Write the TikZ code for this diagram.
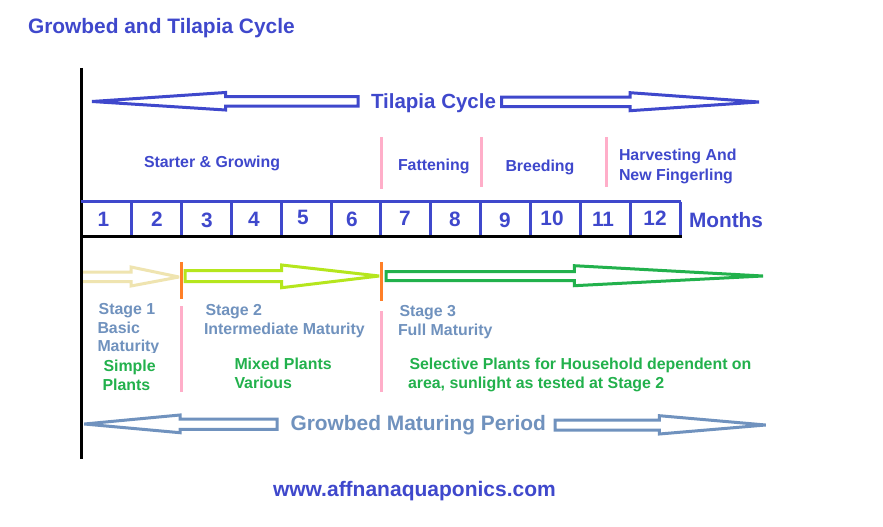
\documentclass[tikz,border=0pt]{standalone}
\usepackage{fontspec}
\setmainfont{Liberation Sans}
\definecolor{indigoP}{HTML}{3F48CC}
\definecolor{steelP}{HTML}{7092BE}
\definecolor{greenP}{HTML}{22B14C}
\definecolor{limeP}{HTML}{B5E61D}
\definecolor{creamP}{HTML}{EFE4B0}
\definecolor{pinkP}{HTML}{FFAEC9}
\definecolor{orangeP}{HTML}{FF7F27}
\newcommand{\fsz}[1]{\fontsize{#1}{#1}\selectfont\bfseries}
\tikzset{
  lbl/.style={inner sep=0pt,outer sep=0pt,anchor=base west,font=\fsz{15.9}},
  num/.style={inner sep=0pt,outer sep=0pt,anchor=base,text=indigoP,font=\fsz{20.8}},
  blt/.style={lbl,text=indigoP},
  slt/.style={lbl,text=steelP},
  grt/.style={lbl,text=greenP},
  arrowline/.style={line width=3pt,line join=miter,miter limit=4},
  sep/.style={line width=3pt},
}
\begin{document}
\begin{tikzpicture}[x=1pt,y=-1pt]
\useasboundingbox[fill=white] (0,0) rectangle (883,527);
% title
\node[blt,font=\fsz{20.9}] (title) at (28,34) {Growbed and Tilapia Cycle};
% axis
\draw[line width=3pt,black] (81,68) -- (81,459);
% top arrows
\draw[arrowline,indigoP] (358,96.5) -- (225.5,96.5) -- (225.5,92.5) -- (92,101.5) -- (225.5,110) -- (225.5,106) -- (358,106) -- cycle;
\draw[arrowline,indigoP] (501.7,97) -- (630,97) -- (630,92.7) -- (759,102) -- (630,110.7) -- (630,106.7) -- (501.7,106.7) -- cycle;
\node[blt,font=\fsz{20.5}] (tilapia) at (371,108) {Tilapia Cycle};
% phase separators
\draw[sep,pinkP] (381.5,137) -- (381.5,189);
\draw[sep,pinkP] (481,137) -- (481,187);
\draw[sep,pinkP] (606,137) -- (606,187);
\node[blt] (starter) at (144,167.7) {Starter \& Growing};
\node[blt] (fatten) at (398,170) {Fattening};
\node[blt] (breed) at (505.5,171) {Breeding};
\node[blt] (harv) at (619,160) {Harvesting And};
\node[blt] (newf) at (619,180) {New Fingerling};
% month strip
\draw[line width=3pt,indigoP] (81,201.5) -- (681,201.5);
\foreach \x in {131.7,181.7,231.7,281.7,331.7,380.7,430.7,480.7,530.7,580.7,630.7,680.7}
  \draw[line width=3pt,indigoP] (\x,201.5) -- (\x,236);
\draw[line width=3pt,black] (81,236.3) -- (682,236.3);
\foreach \n/\x/\y in {1/103.5/226,2/157/226.7,3/207/227.7,4/254/226,5/303/224.3,6/352/226,7/405/225,8/455/226.7,9/505/227.7,10/552/225.7,11/603/226,12/655/225}
  \node[num] (m\n) at (\x,\y) {\n};
\node[blt,font=\fsz{20.8}] (months) at (689,227.6) {Months};
% stage arrows
\draw[arrowline,creamP] (83,272) -- (131,272) -- (131,267) -- (179,277) -- (131,286) -- (131,281.7) -- (83,281.7);
\draw[arrowline,limeP] (185,270.7) -- (281.7,270.7) -- (281.7,265) -- (379.3,276) -- (281.7,287.7) -- (281.7,281.7) -- (185,281.7) -- cycle;
\draw[arrowline,greenP] (386,271.7) -- (574.3,271.7) -- (574.3,265.7) -- (763,276) -- (574.3,285.7) -- (574.3,280.7) -- (386,280.7) -- cycle;
% stage separators
\draw[sep,orangeP] (181,262) -- (181,299);
\draw[sep,orangeP] (381.5,262) -- (381.5,301);
\draw[sep,pinkP] (181,306) -- (181,392);
\draw[sep,pinkP] (381.5,311) -- (381.5,392);
% stage labels
\node[slt] (s1) at (98.7,314) {Stage 1};
\node[slt] (s1a) at (97.5,333) {Basic};
\node[slt] (s1b) at (97.5,351.7) {Maturity};
\fill[white] (90,352.7) rectangle (170,358);
\node[grt] (s1c) at (103.5,371.7) {Simple};
\node[grt] (s1d) at (102.5,390.7) {Plants};
\node[slt] (s2) at (205.5,315) {Stage 2};
\node[slt] (s2a) at (204,334) {Intermediate Maturity};
\node[grt] (s2b) at (234.5,369.3) {Mixed Plants};
\node[grt] (s2c) at (234.5,388.7) {Various};
\node[slt] (s3) at (399.5,316) {Stage 3};
\node[slt] (s3a) at (398,335) {Full Maturity};
\node[grt] (s3b) at (409.5,369.3) {Selective Plants for Household dependent on};
\node[grt] (s3c) at (408,388.7) {area, sunlight as tested at Stage 2};
% bottom arrows
\draw[arrowline,steelP] (277,419) -- (180,419) -- (180,415) -- (84.3,424) -- (180,432.7) -- (180,429.3) -- (277,429.3) -- cycle;
\draw[arrowline,steelP] (555,420) -- (659.3,420) -- (659.3,415.7) -- (765.7,425) -- (659.3,434) -- (659.3,430) -- (555,430) -- cycle;
\node[slt,font=\fsz{20.9}] (grow) at (290.5,430) {Growbed Maturing Period};
\node[blt,font=\fsz{21}] (url) at (273,496) {www.affnanaquaponics.com};
\end{tikzpicture}
\end{document}
